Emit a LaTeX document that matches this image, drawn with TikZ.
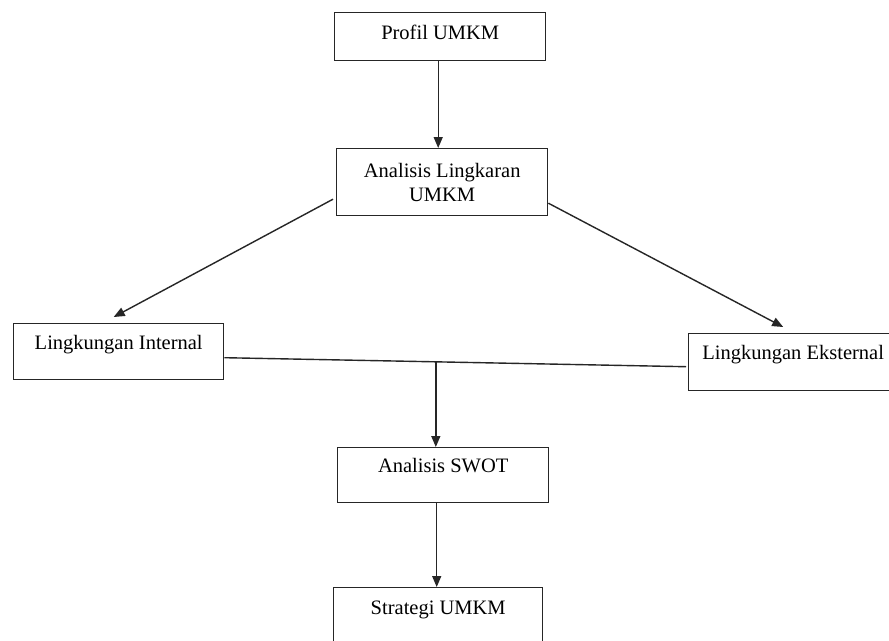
\documentclass[tikz,border=0pt]{standalone}
\usepackage{fontspec}
\setmainfont{Liberation Serif}
\usetikzlibrary{arrows.meta,calc}
\begin{document}
\begin{tikzpicture}[x=1pt,y=-1pt,
  box/.style={draw=black!85, line width=1.4pt, rectangle, inner xsep=0pt, inner ysep=0pt,
    font=\fontsize{20.5}{24}\selectfont, anchor=north west, align=center},
  conn/.style={draw=black!85, line width=1.4pt},
  arr/.style={conn, -{Triangle[length=11pt,width=9pt]}}]
\useasboundingbox (0,0) rectangle (889,640);
\clip (0,0) rectangle (889,640);
\fill[white] (0,0) rectangle (889,640);
% boxes
\node[box, minimum width=211pt, text height=27pt, text depth=21pt] (prof) at (334,12) {Profil UMKM};
\node[box, minimum width=211pt, minimum height=67pt] (ling) at (336,148) {Analisis Lingkaran\\UMKM};
\node[box, minimum width=210pt, text height=26pt, text depth=30pt] (int) at (13,323) {Lingkungan Internal};
\node[box, minimum width=209pt, text height=26pt, text depth=31pt] (ext) at (688,333) {Lingkungan Eksternal};
\node[box, minimum width=211pt, text height=25pt, text depth=30pt] (swot) at (337,447) {Analisis SWOT};
\node[box, minimum width=209pt, text height=27pt, text depth=29pt] (strat) at (333,587) {Strategi UMKM};
% connectors
\draw[arr] ($(prof.south)+(-2,0)$) -- ($(prof.south |- ling.north)+(-2,0)$);
\coordinate (l1) at ($(ling.west)+(-3,17)$);
\coordinate (l2) at ($(int.north)+(-5,-6)$);
\draw[arr] (l1) -- (l2);
\coordinate (r1) at ($(ling.east)+(0,21)$);
\coordinate (r2) at ($(ext.north)+(-10,-6)$);
\draw[arr] (r1) -- (r2);
\coordinate (h1) at ($(int.east)+(0,6)$);
\coordinate (h2) at ($(ext.west)+(-2,4.5)$);
\draw[conn] (h1) -- (h2);
\coordinate (m) at ($(h1)!0.458!(h2)$);
\draw[arr] (m) -- (m |- swot.north);
\draw[arr] ($(swot.south)+(-6.5,0)$) -- ($(swot.south |- strat.north)+(-6.5,0)$);
\end{tikzpicture}
\end{document}
